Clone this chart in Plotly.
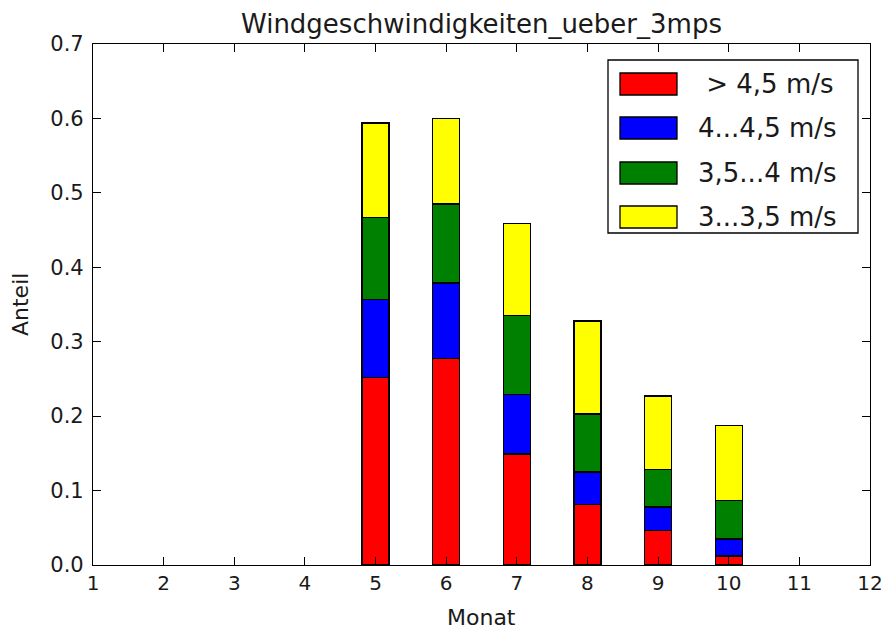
import plotly.graph_objects as go

months = [5, 6, 7, 8, 9, 10]
series_names = ["\u00a0> 4,5 m/s", "4...4,5 m/s", "3,5...4 m/s", "3...3,5 m/s"]
colors = ["#ff0000", "#0000ff", "#008000", "#ffff00"]
v_gt45 = [0.252, 0.277, 0.149, 0.081, 0.046, 0.012]
v_40_45 = [0.105, 0.102, 0.080, 0.044, 0.032, 0.023]
v_35_40 = [0.110, 0.106, 0.106, 0.078, 0.050, 0.052]
v_30_35 = [0.127, 0.115, 0.124, 0.125, 0.099, 0.100]
series_values = [v_gt45, v_40_45, v_35_40, v_30_35]
x_ticks = list(range(1, 13))
y_ticks = [0.0, 0.1, 0.2, 0.3, 0.4, 0.5, 0.6, 0.7]

W, H = 883, 630
L, R, T, B = 93, 13, 44, 65

fig = go.Figure()
for name, col, vals in zip(series_names, colors, series_values):
    fig.add_trace(go.Bar(
        x=months, y=vals, name=name, width=0.38,
        marker=dict(color=col, line=dict(color="black", width=1.3)),
        showlegend=False,
    ))

font = "DejaVu Sans"
fig.update_layout(
    barmode="stack",
    width=W, height=H,
    margin=dict(l=L, r=R, t=T, b=B, autoexpand=False),
    paper_bgcolor="white", plot_bgcolor="white",
    font=dict(family=font, color="#1a1a1a", size=21),
    title=dict(text="Windgeschwindigkeiten_ueber_3mps", x=(L + (W - R)) / 2 / W, xanchor="center",
               y=1 - 24 / H, yanchor="middle", yref="container", font=dict(size=26, family=font)),
)
fig.update_xaxes(
    range=[1, 12], tickvals=x_ticks, ticktext=[str(t) for t in x_ticks],
    showgrid=False, zeroline=False, showline=True, linecolor="black", linewidth=1.2,
    mirror="ticks", ticks="inside", ticklen=8, tickcolor="black",
    ticklabeloverflow="allow", automargin=False,
    tickfont=dict(size=20),
)
fig.update_yaxes(
    range=[0, 0.7], tickvals=y_ticks, ticktext=[f"{t:.1f}" for t in y_ticks],
    showgrid=False, zeroline=False, showline=True, linecolor="black", linewidth=1.2,
    mirror="ticks", ticks="inside", ticklen=8, tickcolor="black",
    ticklabelstandoff=4, ticklabeloverflow="allow", automargin=False,
    tickfont=dict(size=21),
)

pw, ph = W - L - R, H - T - B
def px(x):
    return (x - L) / pw
def py(y):
    return (H - B - y) / ph

# axis titles
fig.add_annotation(xref="paper", yref="paper", x=0.5, y=py(617), text="Monat", showarrow=False,
                   xanchor="center", yanchor="middle", font=dict(size=22, family=font, color="#1a1a1a"))
fig.add_annotation(xref="paper", yref="paper", x=px(20), y=py(305), text="Anteil", showarrow=False,
                   textangle=-90, xanchor="center", yanchor="middle",
                   font=dict(size=22, family=font, color="#1a1a1a"))

# legend box drawn manually to match large swatches
fig.add_shape(type="rect", xref="paper", yref="paper", x0=px(608), x1=px(858), y0=py(233), y1=py(60),
              line=dict(color="black", width=1.3), fillcolor="white", layer="above")
centers = [84, 128, 173, 217]
for name, col, cy in zip(series_names, colors, centers):
    fig.add_shape(type="rect", xref="paper", yref="paper", x0=px(620), x1=px(677),
                  y0=py(cy + 11), y1=py(cy - 11), line=dict(color="black", width=1.3),
                  fillcolor=col, layer="above")
    fig.add_annotation(xref="paper", yref="paper", x=px(696), y=py(cy), text=name,
                       showarrow=False, xanchor="left", yanchor="middle",
                       font=dict(size=26, family=font, color="#1a1a1a"))

fig.write_html("out.html")
